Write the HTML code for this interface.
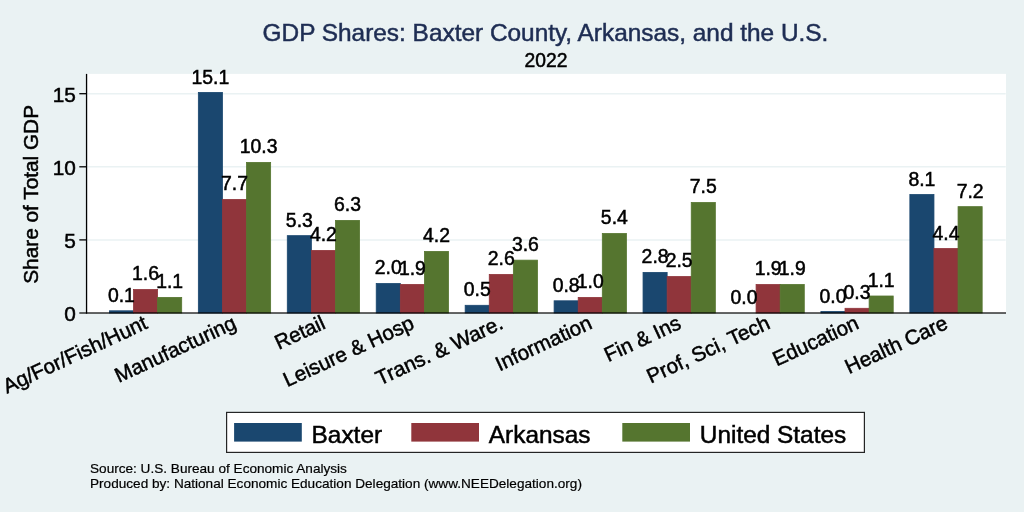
<!DOCTYPE html>
<html><head><meta charset="utf-8"><title>GDP Shares</title>
<style>html,body{margin:0;padding:0;background:#eaf2f3;}svg{display:block;}text{font-family:"Liberation Sans",sans-serif;stroke:#000;stroke-width:0.5px;}</style>
</head><body>
<svg width="1024" height="512" viewBox="0 0 1024 512">
<rect x="0" y="0" width="1024" height="512" fill="#eaf2f3"/>
<rect x="87.20" y="73.90" width="918.80" height="239.10" fill="#ffffff"/>
<line x1="87.20" x2="1005.70" y1="239.90" y2="239.90" stroke="#eaf2f3" stroke-width="1.5"/>
<line x1="87.20" x2="1005.70" y1="166.80" y2="166.80" stroke="#eaf2f3" stroke-width="1.5"/>
<line x1="87.20" x2="1005.70" y1="93.70" y2="93.70" stroke="#eaf2f3" stroke-width="1.5"/>
<rect x="109.40" y="310.80" width="24.10" height="2.20" fill="#1a476f" stroke="#1a476f" stroke-width="0.80"/>
<rect x="133.50" y="289.50" width="24.10" height="23.50" fill="#90353b" stroke="#90353b" stroke-width="0.80"/>
<rect x="157.60" y="297.40" width="24.10" height="15.60" fill="#55752f" stroke="#55752f" stroke-width="0.80"/>
<rect x="198.34" y="92.40" width="24.10" height="220.60" fill="#1a476f" stroke="#1a476f" stroke-width="0.80"/>
<rect x="222.44" y="199.40" width="24.10" height="113.60" fill="#90353b" stroke="#90353b" stroke-width="0.80"/>
<rect x="246.54" y="162.40" width="24.10" height="150.60" fill="#55752f" stroke="#55752f" stroke-width="0.80"/>
<rect x="287.28" y="235.65" width="24.10" height="77.35" fill="#1a476f" stroke="#1a476f" stroke-width="0.80"/>
<rect x="311.38" y="250.40" width="24.10" height="62.60" fill="#90353b" stroke="#90353b" stroke-width="0.80"/>
<rect x="335.48" y="220.40" width="24.10" height="92.60" fill="#55752f" stroke="#55752f" stroke-width="0.80"/>
<rect x="376.22" y="283.50" width="24.10" height="29.50" fill="#1a476f" stroke="#1a476f" stroke-width="0.80"/>
<rect x="400.32" y="284.40" width="24.10" height="28.60" fill="#90353b" stroke="#90353b" stroke-width="0.80"/>
<rect x="424.42" y="251.40" width="24.10" height="61.60" fill="#55752f" stroke="#55752f" stroke-width="0.80"/>
<rect x="465.16" y="305.30" width="24.10" height="7.70" fill="#1a476f" stroke="#1a476f" stroke-width="0.80"/>
<rect x="489.26" y="274.40" width="24.10" height="38.60" fill="#90353b" stroke="#90353b" stroke-width="0.80"/>
<rect x="513.36" y="260.15" width="24.10" height="52.85" fill="#55752f" stroke="#55752f" stroke-width="0.80"/>
<rect x="554.10" y="300.80" width="24.10" height="12.20" fill="#1a476f" stroke="#1a476f" stroke-width="0.80"/>
<rect x="578.20" y="297.40" width="24.10" height="15.60" fill="#90353b" stroke="#90353b" stroke-width="0.80"/>
<rect x="602.30" y="233.50" width="24.10" height="79.50" fill="#55752f" stroke="#55752f" stroke-width="0.80"/>
<rect x="643.04" y="272.40" width="24.10" height="40.60" fill="#1a476f" stroke="#1a476f" stroke-width="0.80"/>
<rect x="667.14" y="276.50" width="24.10" height="36.50" fill="#90353b" stroke="#90353b" stroke-width="0.80"/>
<rect x="691.24" y="202.50" width="24.10" height="110.50" fill="#55752f" stroke="#55752f" stroke-width="0.80"/>
<rect x="756.08" y="284.50" width="24.10" height="28.50" fill="#90353b" stroke="#90353b" stroke-width="0.80"/>
<rect x="780.18" y="284.50" width="24.10" height="28.50" fill="#55752f" stroke="#55752f" stroke-width="0.80"/>
<rect x="820.92" y="311.40" width="24.10" height="1.60" fill="#1a476f" stroke="#1a476f" stroke-width="0.80"/>
<rect x="845.02" y="308.30" width="24.10" height="4.70" fill="#90353b" stroke="#90353b" stroke-width="0.80"/>
<rect x="869.12" y="296.00" width="24.10" height="17.00" fill="#55752f" stroke="#55752f" stroke-width="0.80"/>
<rect x="909.86" y="194.50" width="24.10" height="118.50" fill="#1a476f" stroke="#1a476f" stroke-width="0.80"/>
<rect x="933.96" y="248.50" width="24.10" height="64.50" fill="#90353b" stroke="#90353b" stroke-width="0.80"/>
<rect x="958.06" y="206.65" width="24.10" height="106.35" fill="#55752f" stroke="#55752f" stroke-width="0.80"/>
<line x1="86.55" x2="86.55" y1="73.90" y2="313.70" stroke="#000" stroke-width="1.3"/>
<line x1="79.30" x2="1006.00" y1="313.00" y2="313.00" stroke="#000" stroke-width="1.4" opacity="0.8"/>
<line x1="79.30" x2="86.50" y1="239.90" y2="239.90" stroke="#000" stroke-width="1.3"/>
<line x1="79.30" x2="86.50" y1="166.80" y2="166.80" stroke="#000" stroke-width="1.3"/>
<line x1="79.30" x2="86.50" y1="93.70" y2="93.70" stroke="#000" stroke-width="1.3"/>
<text x="75.8" y="321.30" font-size="20.8" text-anchor="end">0</text>
<text x="75.8" y="248.20" font-size="20.8" text-anchor="end">5</text>
<text x="75.8" y="175.10" font-size="20.8" text-anchor="end">10</text>
<text x="75.8" y="102.00" font-size="20.8" text-anchor="end">15</text>
<text x="121.45" y="301.60" font-size="19.4" text-anchor="middle">0.1</text>
<text x="145.55" y="280.40" font-size="19.4" text-anchor="middle">1.6</text>
<text x="169.65" y="287.60" font-size="19.4" text-anchor="middle">1.1</text>
<text x="210.39" y="83.75" font-size="19.4" text-anchor="middle">15.1</text>
<text x="234.49" y="190.30" font-size="19.4" text-anchor="middle">7.7</text>
<text x="258.59" y="152.90" font-size="19.4" text-anchor="middle">10.3</text>
<text x="299.33" y="226.55" font-size="19.4" text-anchor="middle">5.3</text>
<text x="323.43" y="241.30" font-size="19.4" text-anchor="middle">4.2</text>
<text x="347.53" y="211.30" font-size="19.4" text-anchor="middle">6.3</text>
<text x="388.27" y="274.40" font-size="19.4" text-anchor="middle">2.0</text>
<text x="412.37" y="274.60" font-size="19.4" text-anchor="middle">1.9</text>
<text x="436.47" y="242.30" font-size="19.4" text-anchor="middle">4.2</text>
<text x="477.21" y="296.20" font-size="19.4" text-anchor="middle">0.5</text>
<text x="501.31" y="265.30" font-size="19.4" text-anchor="middle">2.6</text>
<text x="525.41" y="251.05" font-size="19.4" text-anchor="middle">3.6</text>
<text x="566.15" y="291.70" font-size="19.4" text-anchor="middle">0.8</text>
<text x="590.25" y="288.30" font-size="19.4" text-anchor="middle">1.0</text>
<text x="614.35" y="224.40" font-size="19.4" text-anchor="middle">5.4</text>
<text x="655.09" y="263.30" font-size="19.4" text-anchor="middle">2.8</text>
<text x="679.19" y="267.40" font-size="19.4" text-anchor="middle">2.5</text>
<text x="703.29" y="193.40" font-size="19.4" text-anchor="middle">7.5</text>
<text x="744.03" y="303.50" font-size="19.4" text-anchor="middle">0.0</text>
<text x="768.13" y="275.40" font-size="19.4" text-anchor="middle">1.9</text>
<text x="792.23" y="275.40" font-size="19.4" text-anchor="middle">1.9</text>
<text x="832.97" y="302.60" font-size="19.4" text-anchor="middle">0.0</text>
<text x="857.07" y="298.60" font-size="19.4" text-anchor="middle">0.3</text>
<text x="881.17" y="286.70" font-size="19.4" text-anchor="middle">1.1</text>
<text x="921.91" y="185.60" font-size="19.4" text-anchor="middle">8.1</text>
<text x="946.01" y="239.50" font-size="19.4" text-anchor="middle">4.4</text>
<text x="970.11" y="197.50" font-size="19.4" text-anchor="middle">7.2</text>
<text transform="translate(148.75,327.80) rotate(-24.9)" font-size="20.7" text-anchor="end">Ag/For/Fish/Hunt</text>
<text transform="translate(237.69,327.80) rotate(-24.9)" font-size="20.7" text-anchor="end">Manufacturing</text>
<text transform="translate(326.63,327.80) rotate(-24.9)" font-size="20.7" text-anchor="end">Retail</text>
<text transform="translate(415.57,327.80) rotate(-24.9)" font-size="20.7" text-anchor="end">Leisure &amp; Hosp</text>
<text transform="translate(504.51,327.80) rotate(-24.9)" font-size="20.7" text-anchor="end">Trans. &amp; Ware.</text>
<text transform="translate(593.45,327.80) rotate(-24.9)" font-size="20.7" text-anchor="end">Information</text>
<text transform="translate(682.39,327.80) rotate(-24.9)" font-size="20.7" text-anchor="end">Fin &amp; Ins</text>
<text transform="translate(771.33,327.80) rotate(-24.9)" font-size="20.7" text-anchor="end">Prof, Sci, Tech</text>
<text transform="translate(860.27,327.80) rotate(-24.9)" font-size="20.7" text-anchor="end">Education</text>
<text transform="translate(949.21,327.80) rotate(-24.9)" font-size="20.7" text-anchor="end">Health Care</text>
<text x="545.5" y="40.8" font-size="24.4" text-anchor="middle" fill="#1e2d53" style="stroke:#1e2d53">GDP Shares: Baxter County, Arkansas, and the U.S.</text>
<text x="546" y="66.9" font-size="19.3" text-anchor="middle">2022</text>
<text transform="translate(37.8,194.4) rotate(-90)" font-size="20.8" text-anchor="middle">Share of Total GDP</text>
<rect x="226.6" y="412.4" width="637.8" height="40" fill="#ffffff" stroke="#000" stroke-opacity="0.85" stroke-width="1.2"/>
<rect x="234.10" y="423" width="67.7" height="18.6" fill="#1a476f"/>
<text x="311.60" y="442.6" font-size="24.4">Baxter</text>
<rect x="411.30" y="423" width="67.7" height="18.6" fill="#90353b"/>
<text x="488.80" y="442.6" font-size="24.4">Arkansas</text>
<rect x="622.30" y="423" width="67.7" height="18.6" fill="#55752f"/>
<text x="699.80" y="442.6" font-size="24.4">United States</text>
<text x="90" y="472.8" font-size="13.6" style="stroke-width:0.2px">Source: U.S. Bureau of Economic Analysis</text>
<text x="90" y="487.5" font-size="13.6" style="stroke-width:0.2px">Produced by: National Economic Education Delegation (www.NEEDelegation.org)</text>
</svg></body></html>
